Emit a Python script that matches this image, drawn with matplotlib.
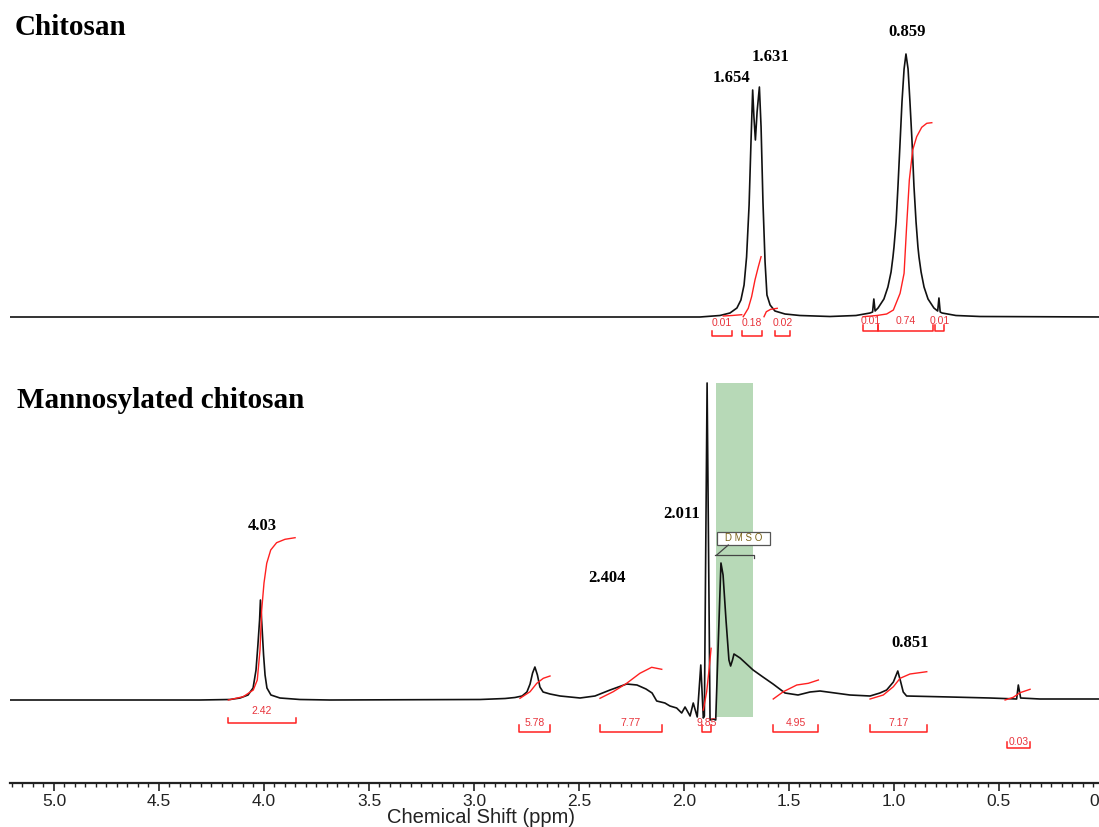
import matplotlib
matplotlib.use('Agg')
import matplotlib.pyplot as plt
from matplotlib.patches import Rectangle
from matplotlib.ticker import FixedLocator, FixedFormatter, MultipleLocator

# ---------------- data (ppm, intensity in a.u.) ----------------
chitosan_ppm = [5.210, 1.924, 1.829, 1.781, 1.748, 1.729, 1.714, 1.702, 1.690, 1.681,
                1.673, 1.667, 1.660, 1.652, 1.641, 1.633, 1.624, 1.614, 1.605, 1.590,
                1.567, 1.519, 1.448, 1.305, 1.181, 1.114, 1.102, 1.096, 1.090, 1.076,
                1.048, 1.029, 1.014, 1.005, 1.000, 0.990, 0.981, 0.971, 0.962, 0.952,
                0.943, 0.933, 0.924, 0.914, 0.905, 0.895, 0.886, 0.881, 0.871, 0.857,
                0.838, 0.810, 0.792, 0.786, 0.780, 0.771, 0.705, 0.590, 0.000]
chitosan_int = [0, 0, 1.5, 4, 9, 17, 32, 60, 112, 175,
                227, 200, 177, 205, 230, 190, 115, 55, 22, 12,
                6, 3, 1.5, 0.5, 1.5, 4, 5, 18, 6, 9,
                18, 30, 45, 60, 70, 95, 131, 175, 215, 248,
                263, 248, 215, 175, 131, 95, 70, 60, 45, 30,
                18, 9, 6, 19, 5, 4, 1.5, 0.5, 0]

manno_ppm = [5.210, 4.305, 4.162, 4.114, 4.076, 4.052, 4.038, 4.029, 4.021, 4.017,
             4.010, 4.002, 3.995, 3.986, 3.967, 3.924, 3.829, 3.686, 2.971, 2.852,
             2.805, 2.771, 2.748, 2.733, 2.721, 2.710, 2.698, 2.686, 2.671, 2.638,
             2.590, 2.495, 2.424, 2.352, 2.273, 2.224, 2.181, 2.152, 2.130, 2.091,
             2.067, 2.035, 2.011, 1.995, 1.971, 1.956, 1.937, 1.920, 1.908, 1.903,
             1.890, 1.876, 1.862, 1.849, 1.838, 1.824, 1.814, 1.800, 1.786, 1.778,
             1.769, 1.762, 1.733, 1.671, 1.624, 1.576, 1.519, 1.457, 1.400, 1.352,
             1.281, 1.210, 1.114, 1.067, 1.035, 1.003, 0.982, 0.968, 0.956, 0.940,
             0.733, 0.543, 0.416, 0.408, 0.397, 0.305, 0.000]
manno_int = [0, 0, 0.5, 2, 5, 12, 30, 55, 80, 100,
             75, 45, 25, 12, 5, 2, 0.5, 0, 0.5, 1.5,
             2.5, 4, 8, 16, 27, 33, 25, 13, 8, 6,
             4, 2, 4, 10, 16, 15, 11, 7, -1, -3,
             -6, -8, -13, -7, -16, -3, -17, 35, -18, -16,
             317, -20, -19, -20, 50, 137, 125, 80, 40, 34,
             40, 46, 42, 30, 23, 16, 7, 5, 8, 9,
             7, 5, 4, 7, 10, 18, 29, 18, 8, 4,
             3, 2, 1, 15, 2, 1, 1]

# integral curves (ppm, running integral a.u.)
chit_integrals = [
    ([1.813, 1.771, 1.725], [1.0, 1.5, 2.3]),
    ([1.718, 1.694, 1.678, 1.662, 1.646, 1.633], [0.3, 8.7, 20.3, 37, 50.3, 60.3]),
    ([1.619, 1.608, 1.587, 1.556], [0.3, 5.3, 7.7, 8.7]),
    ([1.146, 1.082, 1.035, 1.003, 0.971, 0.952, 0.940, 0.927, 0.911, 0.892, 0.868, 0.844, 0.820],
     [0.3, 1.5, 3, 7, 23.7, 43.7, 90.3, 137, 167, 180.3, 189.7, 193.7, 194.3]),
]
manno_integrals = [
    ([4.170, 4.099, 4.051, 4.032, 4.019, 4.011, 4.000, 3.987, 3.968, 3.940, 3.900, 3.852],
     [0, 3.3, 10, 20, 50, 90, 117, 136.7, 150, 157.3, 160.7, 162.3]),
    ([2.781, 2.733, 2.701, 2.670, 2.638], [1.7, 8.3, 16.7, 21.7, 24]),
    ([2.400, 2.337, 2.273, 2.210, 2.154, 2.106], [1.7, 8.3, 16.7, 26.7, 32.7, 30.7]),
    ([1.908, 1.892, 1.880, 1.871], [-10, 8.3, 31.7, 51.7]),
    ([1.575, 1.527, 1.463, 1.408, 1.360], [1, 8.3, 15, 16.7, 20]),
    ([1.114, 1.051, 1.003, 0.971, 0.924, 0.844], [1, 5, 13.3, 21.7, 26, 28.3]),
    ([0.471, 0.432, 0.400, 0.352], [0, 2.7, 7.3, 10.7]),
]

# integration ranges (ppm start, ppm end) and values
chit_ranges = [(1.868, 1.773), (1.725, 1.630), (1.567, 1.495),
               (1.146, 1.075), (1.075, 0.816), (0.805, 0.760)]
chit_values = ['0.01', '0.18', '0.02', '0.01', '0.74', '0.01']
manno_ranges = [(4.170, 3.849), (2.784, 2.638), (2.400, 2.106), (1.916, 1.871),
                (1.575, 1.360), (1.114, 0.844), (0.460, 0.352)]
manno_values = ['2.42', '5.78', '7.77', '9.85', '4.95', '7.17', '0.03']

# peak labels
chit_peaks = ['1.654', '1.631', '0.859']
chit_peak_ppm = [1.776, 1.590, 0.938]
manno_peaks = ['4.03', '2.011', '2.404', '0.851']
manno_peak_ppm = [4.007, 2.010, 2.367, 0.924]

dmso_band = (1.848, 1.671)

tick_values = [5.0, 4.5, 4.0, 3.5, 3.0, 2.5, 2.0, 1.5, 1.0, 0.5, 0.0]
tick_labels = ['5.0', '4.5', '4.0', '3.5', '3.0', '2.5', '2.0', '1.5', '1.0', '0.5', '0']

# ---------------- layout ----------------
W, H = 1099, 827
CHIT_OFF = 466
MANNO_OFF = 83
RED = '#ff2020'
RED_TXT = '#e8343c'
serif = ['Liberation Serif', 'DejaVu Serif']
sans = ['Liberation Sans', 'DejaVu Sans']
TICK_FS = 12.5

fig = plt.figure(figsize=(W / 100, H / 100), dpi=100)
fig.patch.set_facecolor('white')
ax = fig.add_axes([10 / W, (H - 783) / H, 1094 / W, 783 / H])
ax.set_xlim(5.2095, 0.0)
ax.set_ylim(0, 783)
ax.set_facecolor('none')

for s in ['left', 'right', 'top']:
    ax.spines[s].set_visible(False)
ax.spines['bottom'].set_linewidth(1.6)
ax.spines['bottom'].set_color('#222222')
ax.set_yticks([])
ax.xaxis.set_major_locator(FixedLocator(tick_values))
# the last label ("0") sits at the right edge; it is drawn separately so it stays inside
ax.xaxis.set_major_formatter(FixedFormatter(tick_labels[:-1] + ['']))
ax.xaxis.set_minor_locator(MultipleLocator(0.05))
ax.tick_params(axis='x', which='major', direction='out', length=6, width=1.2,
               pad=2, labelsize=TICK_FS, colors='#222222')
ax.tick_params(axis='x', which='minor', direction='out', length=3, width=1.0, colors='#222222')
for lab in ax.get_xticklabels():
    lab.set_fontfamily(sans)
ax.annotate(tick_labels[-1], xy=(tick_values[-1], 0), xycoords=('data', 'axes fraction'),
            xytext=(-3.5, -8), textcoords='offset points', ha='right', va='top',
            fontsize=TICK_FS, family=sans, color='#222222', annotation_clip=False)

# DMSO band
ax.add_patch(Rectangle((dmso_band[1], MANNO_OFF - 17), dmso_band[0] - dmso_band[1], 334,
                       facecolor='#b7d9b7', edgecolor='none', zorder=1))

# spectra
ax.plot(chitosan_ppm, [v + CHIT_OFF for v in chitosan_int], color='#111111', lw=1.2, zorder=3)
ax.plot(manno_ppm, [v + MANNO_OFF for v in manno_int], color='#111111', lw=1.2, zorder=3)

# integrals
for xs, ys in chit_integrals:
    ax.plot(xs, [v + CHIT_OFF for v in ys], color=RED, lw=1.0, zorder=4)
for xs, ys in manno_integrals:
    ax.plot(xs, [v + MANNO_OFF for v in ys], color=RED, lw=1.0, zorder=4)


def bracket(x0, x1, ybase, h, label, ylab):
    ax.plot([x0, x0, x1, x1], [ybase + h, ybase, ybase, ybase + h], color=RED, lw=1.1, zorder=4)
    ax.text((x0 + x1) / 2, ylab, label, ha='center', va='center', fontsize=7.5,
            color=RED_TXT, family=sans, zorder=5)


for i, ((a, b), lab) in enumerate(zip(chit_ranges, chit_values)):
    if i < 3:
        bracket(a, b, CHIT_OFF - 18.7, 5, lab, CHIT_OFF - 6.3)
    else:
        bracket(a, b, CHIT_OFF - 13.7, 5.7, lab, CHIT_OFF - 3.7)

for (a, b), lab in zip(manno_ranges, manno_values):
    if lab == '2.42':
        bracket(a, b, MANNO_OFF - 22.7, 4.4, lab, MANNO_OFF - 10.7)
    elif lab == '0.03':
        bracket(a, b, MANNO_OFF - 48.3, 6.6, lab, MANNO_OFF - 41.7)
    else:
        bracket(a, b, MANNO_OFF - 31.7, 6.7, lab, MANNO_OFF - 22.5)

# peak labels
chit_label_y = [239, 260, 285]
for lab, x, y in zip(chit_peaks, chit_peak_ppm, chit_label_y):
    ax.text(x, CHIT_OFF + y, lab, ha='center', va='center', fontsize=12,
            fontweight='bold', family=serif, zorder=5)
manno_label_y = [174, 186, 122, 57]
for lab, x, y in zip(manno_peaks, manno_peak_ppm, manno_label_y):
    ax.text(x, MANNO_OFF + y, lab, ha='center', va='center', fontsize=12,
            fontweight='bold', family=serif, zorder=5)

# DMSO annotation
ax.add_patch(Rectangle((1.590, MANNO_OFF + 155), 0.254, 13.3, facecolor='white',
                       edgecolor='#555555', lw=0.9, zorder=5))
ax.text(1.717, MANNO_OFF + 161.7, 'D M S O', ha='center', va='center', fontsize=7,
        color='#7a6418', family=sans, zorder=6)
ax.plot([1.789, 1.844], [MANNO_OFF + 155, MANNO_OFF + 145], color='#444444', lw=0.9, zorder=5)
ax.plot([1.852, 1.667, 1.667], [MANNO_OFF + 145, MANNO_OFF + 145, MANNO_OFF + 142],
        color='#444444', lw=0.9, zorder=5)

# titles
fig.text(15 / W, 1 - 35 / H, 'Chitosan', fontsize=21, fontweight='bold',
         family=serif, ha='left', va='baseline')
fig.text(17 / W, 1 - 408 / H, 'Mannosylated chitosan', fontsize=21, fontweight='bold',
         family=serif, ha='left', va='baseline')

# x label
fig.text(481 / W, 1 - 823 / H, 'Chemical Shift (ppm)', fontsize=14.5, family=sans,
         ha='center', va='baseline', color='#222222')

fig.savefig('out.png', dpi=100, facecolor='white')
